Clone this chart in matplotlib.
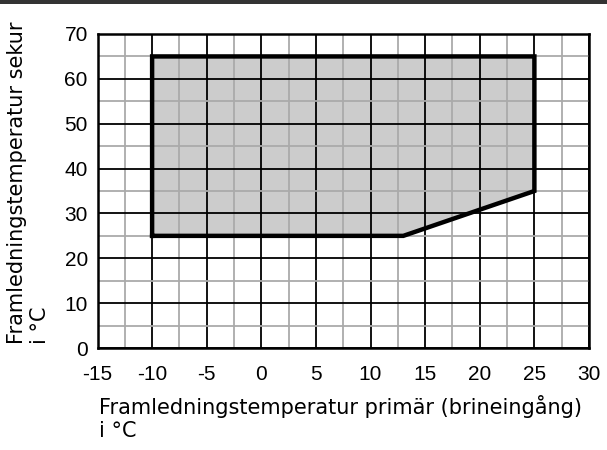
import matplotlib
matplotlib.use('Agg')
import matplotlib.pyplot as plt
from matplotlib.patches import Polygon, Rectangle

plt.rcParams.update({'font.size': 15, 'font.family': 'Liberation Sans', 'axes.unicode_minus': False})

# Operating envelope (primary inlet temp, secondary flow temp)
env_x = [-10, -10, 25, 25, 13]
env_y = [25, 65, 65, 35, 25]

x_ticks = [-15, -10, -5, 0, 5, 10, 15, 20, 25, 30]
y_ticks = [0, 10, 20, 30, 40, 50, 60, 70]

fig = plt.figure(figsize=(6.07, 4.5), dpi=100)
ax = fig.add_axes([97.5 / 607, 1 - 348 / 450, 491.5 / 607, 314 / 450])

ax.set_xlim(-15, 30)
ax.set_ylim(0, 70)
ax.set_xticks(x_ticks)
ax.set_yticks(y_ticks)
ax.set_xticks([x + 2.5 for x in x_ticks[:-1]], minor=True)
ax.set_yticks([y + 5 for y in y_ticks[:-1]], minor=True)
ax.grid(which='minor', color='#aaaaaa', linewidth=1.3)
ax.grid(which='major', color='black', linewidth=1.3)
ax.set_axisbelow(True)
ax.tick_params(which='both', length=0)
ax.tick_params(axis='x', pad=12)
ax.tick_params(axis='y', pad=7)

# shaded area sits under the grid, outline on top
ax.add_patch(Polygon(list(zip(env_x, env_y)), closed=True, facecolor='#cccccc',
                     edgecolor='none', zorder=0.3))
ax.plot(env_x + [env_x[0]], env_y + [env_y[0]], color='black', linewidth=3.2, zorder=3,
        solid_joinstyle='miter', solid_capstyle='projecting')

for s in ax.spines.values():
    s.set_linewidth(1.8)

fig.text(99 / 607, 1 - 395 / 450, 'Framledningstemperatur primär (brineingång)\ni °C',
         ha='left', va='top', linespacing=1.2, family='DejaVu Sans')
fig.text(7 / 607, 1 - 344 / 450, 'Framledningstemperatur sekur\ni °C', rotation=90,
         ha='left', va='top', rotation_mode='anchor', linespacing=1.2, family='DejaVu Sans')

# dark bar along the top edge
fig.add_artist(Rectangle((0, 1 - 4 / 450), 1, 4 / 450, transform=fig.transFigure,
                         facecolor='#333333', edgecolor='none', zorder=10))

fig.savefig('out.png', dpi=100)
